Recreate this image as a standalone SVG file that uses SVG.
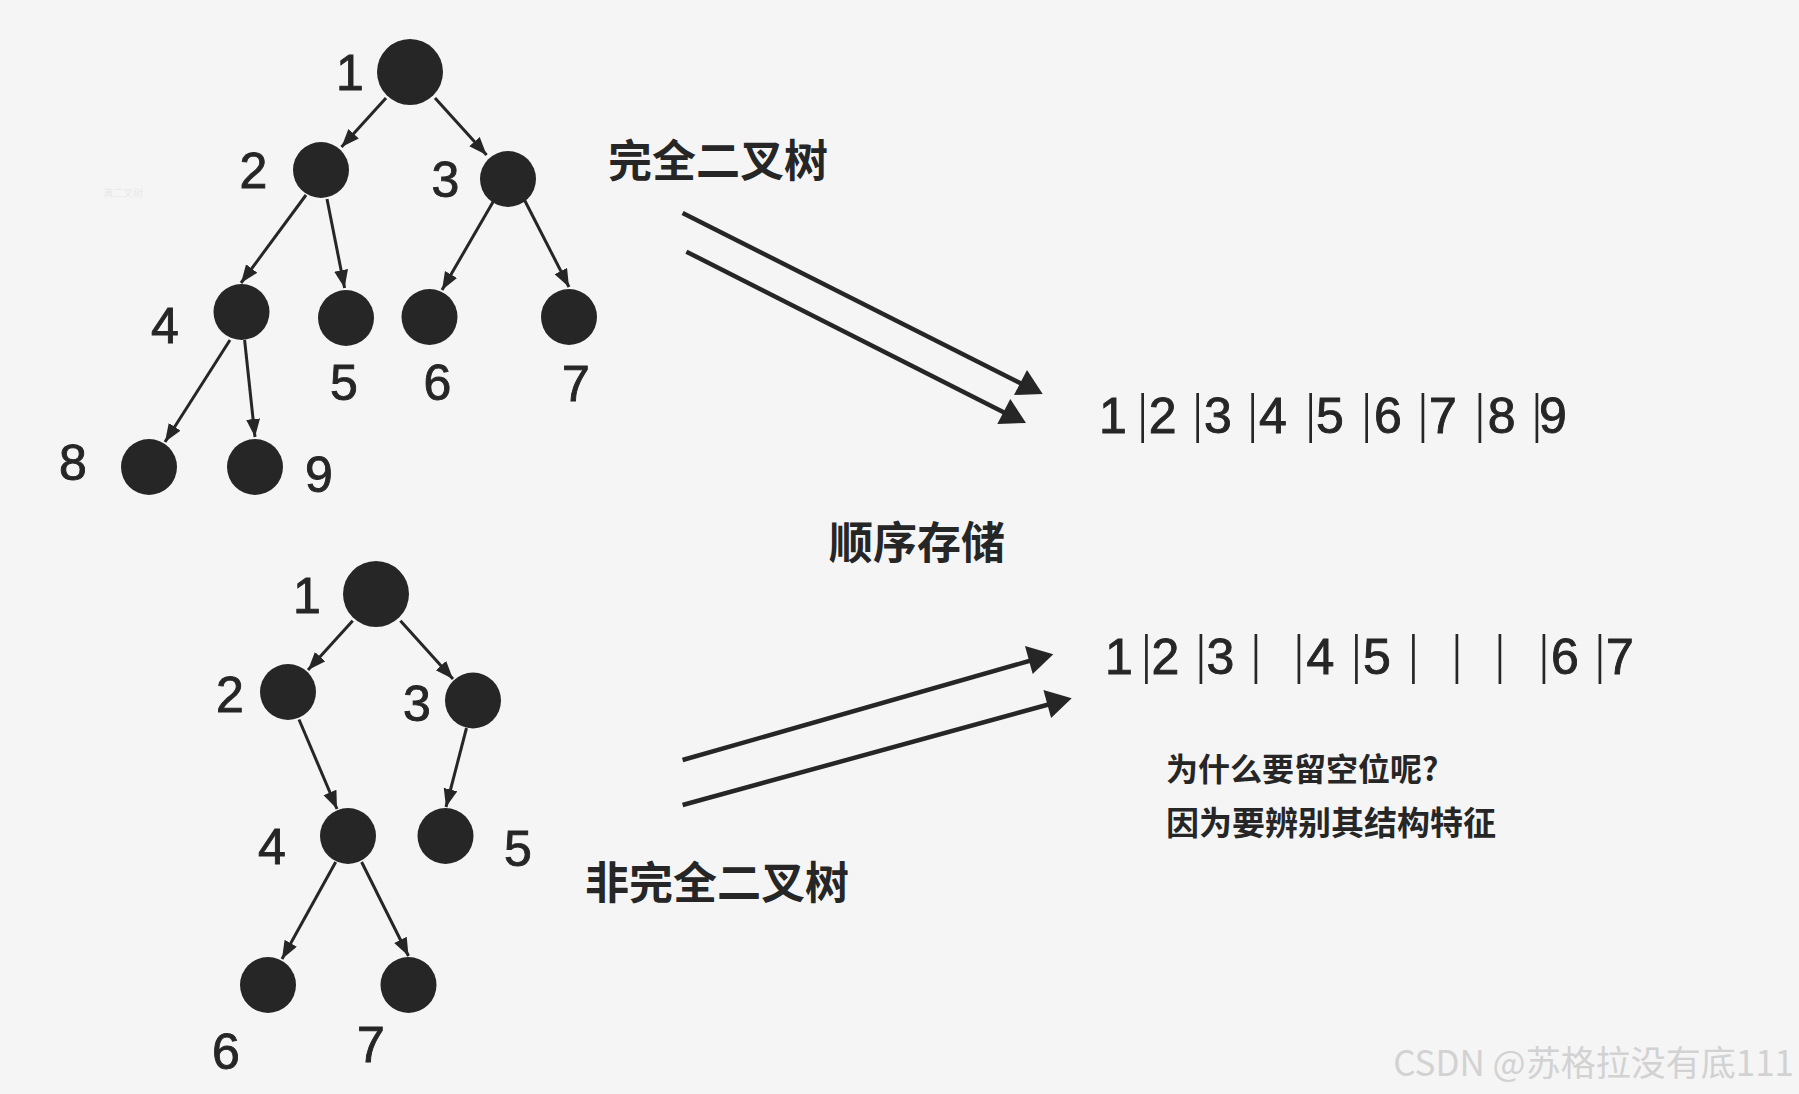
<svg xmlns="http://www.w3.org/2000/svg" width="1799" height="1094" viewBox="0 0 1799 1094">
<style>
.bg{fill:#f5f5f5}
.node{fill:#262626}
.lbl{font-family:"Liberation Sans","DejaVu Sans",sans-serif;font-size:50px;fill:#262626;stroke:#262626;stroke-width:0.9;text-anchor:middle}
.cjk{font-family:"Noto Sans CJK SC",sans-serif;font-weight:700;fill:#262626}
.edge{stroke:#262626;stroke-width:3;fill:none}
.big{stroke:#262626;stroke-width:4.5;fill:none}
.head{fill:#262626}
.arr{font-family:"Liberation Sans","DejaVu Sans",sans-serif;font-size:50px;fill:#262626;stroke:#262626;stroke-width:0.9;text-anchor:middle}
.bar{font-family:"Liberation Serif",serif;font-size:54px;stroke-width:0}
.wm{font-family:"Noto Sans CJK SC",sans-serif;font-size:35px;fill:#d2d2d2;text-anchor:end}
</style>
<defs>
<marker id="ah" markerUnits="userSpaceOnUse" markerWidth="20" markerHeight="16" refX="18" refY="7" orient="auto">
<path d="M0,0 L18,7 L0,14 z" fill="#262626"/>
</marker>
</defs>
<rect class="bg" x="0" y="0" width="1799" height="1094"/>
<text x="103" y="197" style="font-family:'Noto Sans CJK SC',sans-serif;font-size:10px;fill:#e9e9e9">满二叉树</text>

<g id="connectors">
<line class="edge" x1="386" y1="98" x2="341.5" y2="147" marker-end="url(#ah)"/>
<line class="edge" x1="435" y1="98" x2="486.6" y2="155" marker-end="url(#ah)"/>
<line class="edge" x1="306" y1="195" x2="241" y2="283" marker-end="url(#ah)"/>
<line class="edge" x1="327" y1="199" x2="344.6" y2="288" marker-end="url(#ah)"/>
<line class="edge" x1="493" y1="202" x2="442" y2="290" marker-end="url(#ah)"/>
<line class="edge" x1="524.5" y1="200" x2="569" y2="287" marker-end="url(#ah)"/>
<line class="edge" x1="230" y1="340" x2="165" y2="442" marker-end="url(#ah)"/>
<line class="edge" x1="244.6" y1="340" x2="255" y2="437" marker-end="url(#ah)"/>
<line class="edge" x1="352.7" y1="620.7" x2="308" y2="670" marker-end="url(#ah)"/>
<line class="edge" x1="400.4" y1="620.7" x2="453" y2="679" marker-end="url(#ah)"/>
<line class="edge" x1="299" y1="719.5" x2="337" y2="809" marker-end="url(#ah)"/>
<line class="edge" x1="466.5" y1="728" x2="446" y2="807" marker-end="url(#ah)"/>
<line class="edge" x1="335.7" y1="862" x2="282" y2="959" marker-end="url(#ah)"/>
<line class="edge" x1="361.6" y1="862" x2="408.5" y2="956" marker-end="url(#ah)"/>
<line class="big" x1="682.6" y1="213" x2="1028" y2="387"/>
<polygon class="head" points="1027,370 1042.7,394 1014,395"/>
<line class="big" x1="686.4" y1="251.7" x2="1013" y2="417"/>
<polygon class="head" points="1010.3,399 1026,423 997.3,424"/>
<line class="big" x1="682.6" y1="760" x2="1036" y2="659"/>
<polygon class="head" points="1025,646 1053.3,654.3 1032.7,674"/>
<line class="big" x1="682.6" y1="805" x2="1054" y2="703"/>
<polygon class="head" points="1043.4,690 1071.7,698.3 1051.1,718"/>
</g>

<g id="tree1">
<g id="t1-n1"><circle class="node" cx="410" cy="72" r="33"/><text class="lbl" x="350" y="90">1</text></g>
<g id="t1-n2"><circle class="node" cx="321" cy="170" r="28"/><text class="lbl" x="253.5" y="188">2</text></g>
<g id="t1-n3"><circle class="node" cx="508" cy="179" r="28"/><text class="lbl" x="445.5" y="197">3</text></g>
<g id="t1-n4"><circle class="node" cx="241.5" cy="312" r="28"/><text class="lbl" x="165" y="343">4</text></g>
<g id="t1-n5"><circle class="node" cx="346" cy="318" r="28"/><text class="lbl" x="344" y="400">5</text></g>
<g id="t1-n6"><circle class="node" cx="429.5" cy="317" r="28"/><text class="lbl" x="437.5" y="400">6</text></g>
<g id="t1-n7"><circle class="node" cx="569" cy="317" r="28"/><text class="lbl" x="576" y="401">7</text></g>
<g id="t1-n8"><circle class="node" cx="149" cy="467" r="28"/><text class="lbl" x="73" y="480">8</text></g>
<g id="t1-n9"><circle class="node" cx="255" cy="467" r="28"/><text class="lbl" x="319" y="492">9</text></g>
</g>

<g id="tree2">
<g id="t2-n1"><circle class="node" cx="376" cy="594" r="33"/><text class="lbl" x="307" y="613">1</text></g>
<g id="t2-n2"><circle class="node" cx="288" cy="692" r="28"/><text class="lbl" x="230" y="712">2</text></g>
<g id="t2-n3"><circle class="node" cx="473" cy="700.5" r="28"/><text class="lbl" x="417" y="721">3</text></g>
<g id="t2-n4"><circle class="node" cx="348" cy="836" r="28"/><text class="lbl" x="272" y="864">4</text></g>
<g id="t2-n5"><circle class="node" cx="445.5" cy="836" r="28"/><text class="lbl" x="518" y="866">5</text></g>
<g id="t2-n6"><circle class="node" cx="268" cy="985" r="28"/><text class="lbl" x="226" y="1069">6</text></g>
<g id="t2-n7"><circle class="node" cx="408.5" cy="985" r="28"/><text class="lbl" x="371" y="1062">7</text></g>
</g>

<g id="labels">
<text class="cjk" x="608" y="177" font-size="44">完全二叉树</text>
<text class="cjk" x="829" y="559" font-size="44">顺序存储</text>
<text class="cjk" x="585" y="899" font-size="44">非完全二叉树</text>
<text class="cjk" x="1166" y="781" font-size="32">为什么要留空位呢?</text>
<text class="cjk" x="1166" y="835" font-size="33">因为要辨别其结构特征</text>
</g>

<g id="array1">
<text class="arr" y="433"><tspan x="1113">1</tspan><tspan class="bar" x="1142.7" y="431">|</tspan><tspan x="1162.7" y="433">2</tspan><tspan class="bar" x="1197.7" y="431">|</tspan><tspan x="1218" y="433">3</tspan><tspan class="bar" x="1252.7" y="431">|</tspan><tspan x="1273" y="433">4</tspan><tspan class="bar" x="1310.7" y="431">|</tspan><tspan x="1330" y="433">5</tspan><tspan class="bar" x="1366.7" y="431">|</tspan><tspan x="1388" y="433">6</tspan><tspan class="bar" x="1423" y="431">|</tspan><tspan x="1443" y="433">7</tspan><tspan class="bar" x="1480" y="431">|</tspan><tspan x="1501.7" y="433">8</tspan><tspan class="bar" x="1537" y="431">|</tspan><tspan x="1553" y="433">9</tspan></text>
</g>

<g id="array2">
<text class="arr" y="674"><tspan x="1119">1</tspan><tspan class="bar" x="1146.5" y="672">|</tspan><tspan x="1165.4" y="674">2</tspan><tspan class="bar" x="1201" y="672">|</tspan><tspan x="1220.5" y="674">3</tspan><tspan class="bar" x="1256" y="672">|</tspan><tspan class="bar" x="1299" y="672">|</tspan><tspan x="1320.4" y="674">4</tspan><tspan class="bar" x="1356.5" y="672">|</tspan><tspan x="1377" y="674">5</tspan><tspan class="bar" x="1413.4" y="672">|</tspan><tspan class="bar" x="1457" y="672">|</tspan><tspan class="bar" x="1500" y="672">|</tspan><tspan class="bar" x="1544" y="672">|</tspan><tspan x="1565" y="674">6</tspan><tspan class="bar" x="1600" y="672">|</tspan><tspan x="1620" y="674">7</tspan></text>
</g>

<text class="wm" x="1794" y="1076">CSDN @苏格拉没有底111</text>
</svg>
